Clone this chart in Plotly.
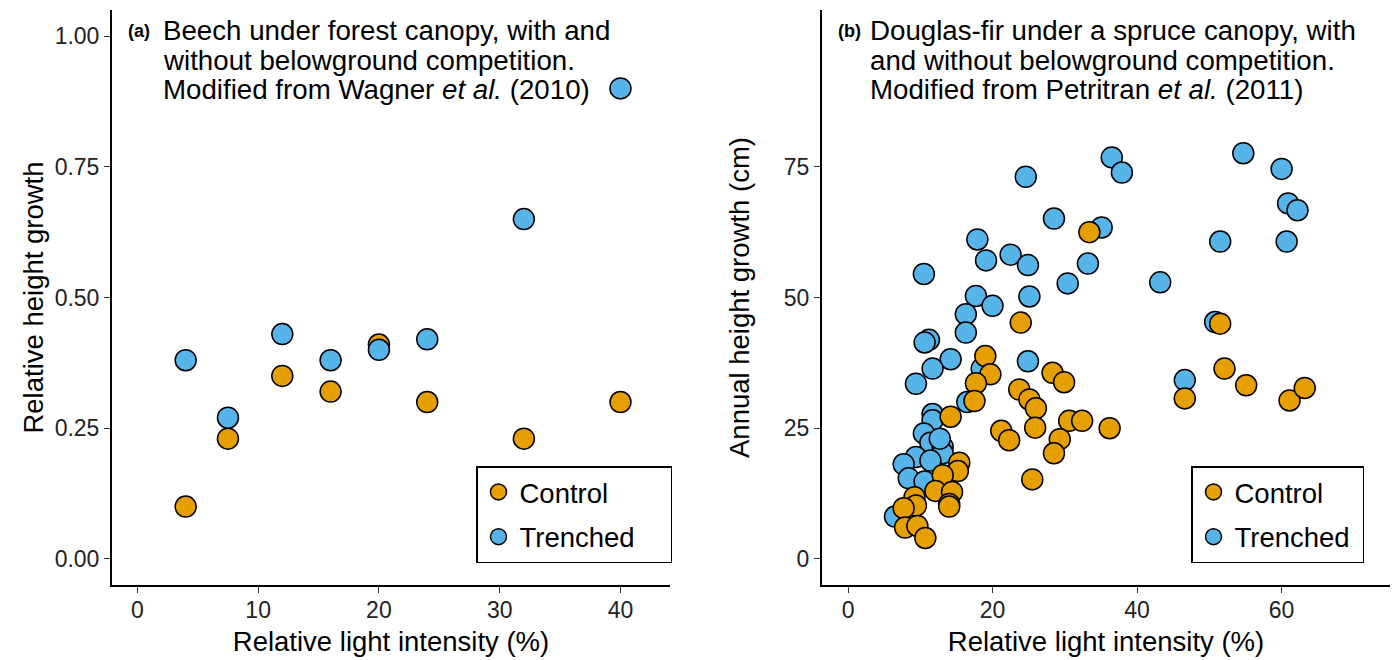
import plotly.graph_objects as go

# ---------------- Data ----------------
# Panel (a): Beech, relative light intensity (%) vs relative height growth
a_light = [4, 7.5, 12, 16, 20, 24, 32, 40]
a_control = [0.10, 0.23, 0.35, 0.32, 0.41, 0.30, 0.23, 0.30]
a_trenched = [0.38, 0.27, 0.43, 0.38, 0.40, 0.42, 0.65, 0.90]

# Panel (b): Douglas-fir, relative light intensity (%) vs annual height growth (cm)
b_control_x = [33.4, 23.9, 19.0, 19.7, 17.7, 17.5, 28.3, 29.9, 23.7, 25.1,
               26.0, 25.9, 14.2, 30.6, 32.4, 36.2, 21.2, 22.3, 29.3, 28.5,
               25.5, 15.4, 15.2, 13.1, 12.1, 14.4, 14.0, 14.0, 9.2, 9.4,
               7.7, 7.9, 9.6, 10.7, 51.5, 46.6, 52.1, 55.1, 61.1, 63.2]
b_control_y = [62.5, 45.2, 38.8, 35.3, 33.6, 30.2, 35.6, 33.8, 32.4, 30.5,
               28.8, 25.1, 27.2, 26.4, 26.4, 25.0, 24.5, 22.7, 22.9, 20.2,
               15.2, 18.4, 16.8, 16.0, 13.0, 12.8, 10.5, 10.0, 11.8, 10.2,
               9.7, 6.0, 6.3, 4.0, 45.0, 30.7, 36.4, 33.2, 30.3, 32.7]
b_trenched_x = [24.6, 28.5, 35.1, 17.9, 19.1, 22.5, 24.9, 33.2, 10.5, 30.4,
                17.7, 20.0, 25.1, 16.3, 16.3, 11.2, 10.6, 18.5, 16.5, 14.2,
                11.7, 9.4, 24.9, 11.7, 11.7, 10.5, 11.4, 13.1, 13.1, 9.4,
                7.7, 11.4, 8.4, 10.6, 6.5, 36.5, 37.9, 54.7, 60.0, 60.9,
                62.2, 51.5, 60.7, 43.2, 50.8, 46.6, 12.7]
b_trenched_y = [73.1, 65.1, 63.4, 61.1, 57.1, 58.2, 56.2, 56.5, 54.5, 52.7,
                50.3, 48.4, 50.2, 46.8, 43.3, 41.9, 41.4, 36.4, 30.0, 38.2,
                36.4, 33.5, 37.8, 27.7, 26.5, 24.0, 22.2, 21.4, 20.2, 19.5,
                18.1, 18.8, 15.4, 14.8, 8.1, 76.8, 73.9, 77.6, 74.6, 68.0,
                66.7, 60.7, 60.7, 52.9, 45.3, 34.2, 23.0]

group_names = ["Control", "Trenched"]
colors = {"Control": "#E69F00", "Trenched": "#56B4E9"}

x_ticks_a = [0, 10, 20, 30, 40]
y_ticks_a = [0.0, 0.25, 0.5, 0.75, 1.0]
x_ticks_b = [0, 20, 40, 60]
y_ticks_b = [0, 25, 50, 75]

FONT = "Liberation Sans, Arial, Helvetica, sans-serif"
MSIZE = 21
PAD_A = "\u00a0" * 4   # widen legend box of panel (a)
PAD_B = "\u00a0" * 1


def marker(name):
    return dict(size=MSIZE, color=colors[name], line=dict(color="black", width=1.5))


fig = go.Figure()

# Panel (a): control drawn first, trenched on top
fig.add_trace(go.Scatter(x=a_light, y=a_control, mode="markers", name=group_names[0] + PAD_A,
                         marker=marker("Control"), xaxis="x", yaxis="y",
                         legend="legend", legendgroup="ac", legendrank=1))
fig.add_trace(go.Scatter(x=a_light, y=a_trenched, mode="markers", name=group_names[1] + PAD_A,
                         marker=marker("Trenched"), xaxis="x", yaxis="y",
                         legend="legend", legendgroup="at", legendrank=2))
# Panel (b): trenched drawn first, control on top
fig.add_trace(go.Scatter(x=b_trenched_x, y=b_trenched_y, mode="markers", name=group_names[1] + PAD_B,
                         marker=marker("Trenched"), xaxis="x2", yaxis="y2",
                         legend="legend2", legendgroup="bt", legendrank=2))
fig.add_trace(go.Scatter(x=b_control_x, y=b_control_y, mode="markers", name=group_names[0] + PAD_B,
                         marker=marker("Control"), xaxis="x2", yaxis="y2",
                         legend="legend2", legendgroup="bc", legendrank=1))

W, H = 1394, 660
ML, MR, MT, MB = 112, 4, 10, 75
pw = W - ML - MR
dom_a = [0, (670 - ML) / pw]
dom_b = [(822 - ML) / pw, 1]

axis_common = dict(showgrid=False, zeroline=False, showline=True, linecolor="black",
                   linewidth=2, ticks="outside", ticklen=6, tickwidth=1.2,
                   tickcolor="#333333", tickfont=dict(size=23, color="#222222", family=FONT),
                   mirror=False)
title_font = dict(size=27.5, color="black", family=FONT)

legend_common = dict(xanchor="left", yanchor="top", y=(585 - 466) / 575,
                     bordercolor="black", borderwidth=1.5, bgcolor="white",
                     font=dict(size=27.5, family=FONT, color="black"),
                     traceorder="grouped", tracegroupgap=6, itemwidth=32)

fig.update_layout(
    width=W, height=H,
    margin=dict(l=ML, r=MR, t=MT, b=MB),
    paper_bgcolor="white", plot_bgcolor="white",
    font=dict(family=FONT, color="black"),
    xaxis=dict(domain=dom_a, range=[-2.1, 44.1], tickvals=x_ticks_a, anchor="y",
               ticklabelstandoff=-3,
               title=dict(text="Relative light intensity (%)", font=title_font, standoff=10),
               **axis_common),
    yaxis=dict(domain=[0, 1], range=[-0.05, 1.05], tickvals=y_ticks_a, tickformat=".2f",
               anchor="x",
               title=dict(text="Relative height growth", font=title_font, standoff=3),
               **axis_common),
    xaxis2=dict(domain=dom_b, range=[-3.6, 75.0], tickvals=x_ticks_b, anchor="y2",
                ticklabelstandoff=-3,
                title=dict(text="Relative light intensity (%)", font=title_font, standoff=10),
                **axis_common),
    yaxis2=dict(domain=[0, 1], range=[-5, 105], tickvals=y_ticks_b, anchor="x2",
                title=dict(text="Annual height growth (cm)", font=title_font, standoff=26),
                **axis_common),
    legend=dict(x=(476 - ML) / pw, **legend_common),
    legend2=dict(x=(1191 - ML) / pw, **legend_common),
)

# Panel titles (one annotation per line)
PH = 575.0
lines_a = ["Beech under forest canopy, with and",
           "without belowground competition.",
           "Modified from Wagner <i>et al.</i> (2010)"]
lines_b = ["Douglas-fir under a spruce canopy, with",
           "and without belowground competition.",
           "Modified from Petritran <i>et al.</i> (2011)"]
line_y = [31, 60, 89]


def add_title(xref, yref, dom_left_px, dom_w, tag, tag_x, text_x, lines):
    fig.add_annotation(xref=xref, yref=yref, x=(tag_x - dom_left_px) / dom_w,
                       y=(585 - line_y[0]) / PH, xanchor="left", yanchor="middle",
                       text=f"<b>{tag}</b>", showarrow=False,
                       font=dict(size=18, family=FONT, color="black"))
    for i, t in enumerate(lines):
        fig.add_annotation(xref=xref, yref=yref, x=(text_x - dom_left_px) / dom_w,
                           y=(585 - line_y[i]) / PH, xanchor="left", yanchor="middle",
                           text=t, showarrow=False,
                           font=dict(size=27.7, family=FONT, color="black"))


add_title("x domain", "y domain", 112, 558, "(a)", 126, 161, lines_a)
add_title("x2 domain", "y2 domain", 822, 568, "(b)", 836, 868, lines_b)

fig.write_html("out.html",
               config={"displayModeBar": False},
               post_script="document.body.style.margin='0';document.body.style.overflow='hidden';")
